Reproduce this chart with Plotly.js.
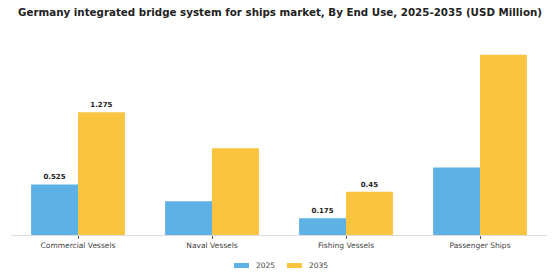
<!DOCTYPE html>
<html>
<head>
<meta charset="utf-8">
<script src="https://cdn.plot.ly/plotly-3.0.1.min.js"></script>
<style>html,body{margin:0;padding:0;background:#fff;}#chart{width:560px;height:280px;}</style>
</head>
<body>
<div id="chart"></div>
<script>
const categories = ["Commercial Vessels", "Naval Vessels", "Fishing Vessels", "Passenger Ships"];
const values2025 = [0.525, 0.35, 0.175, 0.7];
const values2035 = [1.275, 0.9, 0.45, 1.87];
const labeled2025 = [true, false, true, false];
const labeled2035 = [true, false, true, false];
const seriesNames = ["2025", "2035"];
const seriesColors = ["#5DB1E4", "#F9C440"];

const mkText = (vals, mask) => vals.map((v, i) => mask[i] ? String(v) : "");
const font = "DejaVu Sans, Verdana, sans-serif";

const traces = [values2025, values2035].map((vals, k) => ({
  type: "bar", name: seriesNames[k], x: categories, y: vals,
  marker: {color: seriesColors[k]},
  text: mkText(vals, k === 0 ? labeled2025 : labeled2035),
  textposition: "outside", cliponaxis: false,
  textfont: {family: font, size: 7, color: "#222", weight: "bold"}, hoverinfo: "none"
}));

// custom legend (wide thin swatches like the reference)
const legendX = [234, 287];
const shapes = [], annotations = [];
seriesNames.forEach((n, k) => {
  shapes.push({type: "rect", xref: "paper", yref: "paper",
    x0: (legendX[k] - 11) / 536, x1: (legendX[k] + 15 - 11) / 536,
    y0: -(268 - 235) / 199, y1: -(263 - 235) / 199,
    fillcolor: seriesColors[k], line: {width: 0}});
  annotations.push({xref: "paper", yref: "paper", x: (legendX[k] + 20 - 11) / 536,
    y: -(265.5 - 235) / 199, xanchor: "left", yanchor: "middle", showarrow: false,
    text: n, font: {family: font, size: 7.5, color: "#444"}});
});

const layout = {
  width: 560, height: 280,
  margin: {l: 11, r: 13, t: 36, b: 45},
  paper_bgcolor: "#fff", plot_bgcolor: "#fff",
  barmode: "group", bargap: 0.3, bargroupgap: 0,
  title: {text: "<b>Germany integrated bridge system for ships market, By End Use, 2025-2035 (USD Million)</b>",
          x: 0.5, xanchor: "center", y: 0.97, yanchor: "top",
          font: {family: font, size: 10.3, color: "#222"}},
  xaxis: {showline: true, linecolor: "#ddd", linewidth: 1, ticks: "outside", ticklen: 3,
          tickcolor: "#555", tickfont: {family: font, size: 7.5, color: "#444"}, showgrid: false},
  yaxis: {range: [0, 2.065], visible: false, showgrid: false, zeroline: false},
  shapes: shapes, annotations: annotations,
  showlegend: false
};

Plotly.newPlot("chart", traces, layout, {displayModeBar: false, staticPlot: true});
</script>
</body>
</html>
